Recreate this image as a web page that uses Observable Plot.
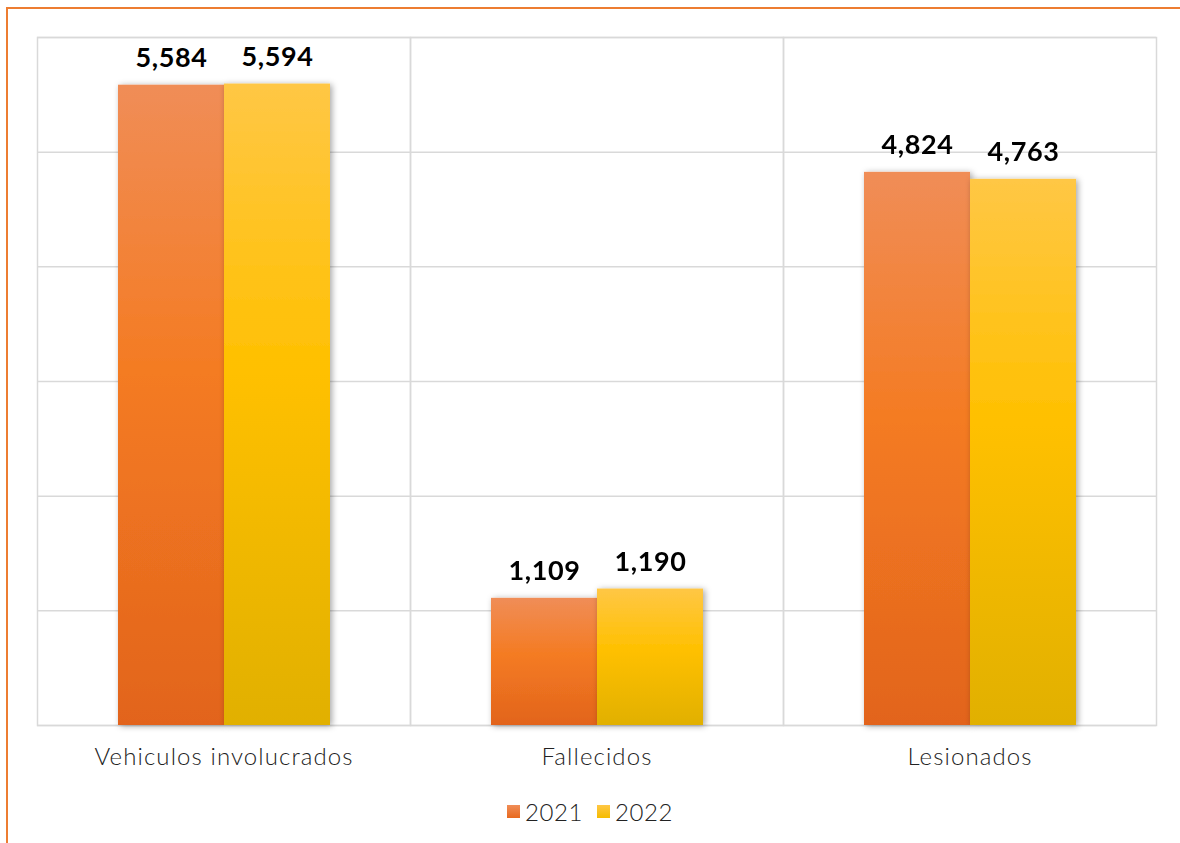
<!DOCTYPE html>
<html>
<head>
<meta charset="utf-8">
<script src="https://cdn.jsdelivr.net/npm/d3@7"></script>
<script src="https://cdn.jsdelivr.net/npm/@observablehq/plot@0.6"></script>
<style>
  html, body { margin: 0; padding: 0; background: #fff; width: 1180px; height: 843px; overflow: hidden; }
  #frame { position: absolute; left: 6px; top: 7px; width: 1180px; height: 850px; border-top: 2px solid #ED7D31; border-left: 2px solid #ED7D31; box-sizing: border-box; }
  #chart { position: absolute; left: 0; top: 0; }
  #legend { position: absolute; top: 794px; left: 0; width: 1180px; text-align: center; font-family: Lato, sans-serif; font-weight: 300; font-size: 24px; letter-spacing: 0.6px; color: #222; }
  #legend span.item { display: inline-flex; align-items: center; margin: 0 7px; }
  #legend span.sw { display: inline-block; width: 13px; height: 13px; margin-right: 5px; }
</style>
</head>
<body>
<div id="frame"></div>
<div id="chart"></div>
<div id="legend"></div>
<script>
const categories = ["Vehiculos involucrados", "Fallecidos", "Lesionados"];
const years = ["2021", "2022"];
const values2021 = [5584, 1109, 4824];
const values2022 = [5594, 1190, 4763];
const yTicks = [0, 1000, 2000, 3000, 4000, 5000, 6000];

const data = [];
categories.forEach((c, i) => {
  data.push({category: c, year: "2021", value: values2021[i]});
  data.push({category: c, year: "2022", value: values2022[i]});
});
const fmt = d3.format(",");

const chart = Plot.plot({
  width: 1180,
  height: 780,
  marginTop: 37,
  marginLeft: 36,
  marginRight: 24,
  marginBottom: 55,
  style: {fontFamily: "Lato, sans-serif", background: "transparent"},
  fx: {domain: categories, padding: 0, label: null, axis: "bottom", tickSize: 0, tickPadding: 22},
  x: {domain: years, paddingInner: 0, paddingOuter: 0.743, axis: null},
  y: {domain: [0, 6000], axis: null},
  marks: [
    Plot.ruleY(yTicks, {stroke: "#d9d9d9", strokeWidth: 1.5}),
    Plot.frame({stroke: "#d9d9d9", strokeWidth: 1.5}),
    Plot.barY(data.filter(d => d.year === "2021"), {fx: "category", x: "year", y: "value", fill: "url(#g2021)", inset: 0}),
    Plot.barY(data.filter(d => d.year === "2022"), {fx: "category", x: "year", y: "value", fill: "url(#g2022)", inset: 0}),
    Plot.text(data, {fx: "category", x: "year", y: "value", text: d => fmt(d.value), dy: -27, fontSize: 27, fontWeight: "bold", fill: "#000"})
  ]
});

// gradients + shadow
const ns = "http://www.w3.org/2000/svg";
const defs = document.createElementNS(ns, "defs");
defs.innerHTML = `
  <linearGradient id="g2021" x1="0" y1="0" x2="0" y2="1">
    <stop offset="0" stop-color="#F08D57"/>
    <stop offset="0.45" stop-color="#F47B22"/>
    <stop offset="1" stop-color="#E2641D"/>
  </linearGradient>
  <linearGradient id="g2022" x1="0" y1="0" x2="0" y2="1">
    <stop offset="0" stop-color="#FFC745"/>
    <stop offset="0.45" stop-color="#FFC000"/>
    <stop offset="1" stop-color="#E1B000"/>
  </linearGradient>
  <filter id="shadow" x="-20%" y="-5%" width="140%" height="110%">
    <feDropShadow dx="2" dy="1" stdDeviation="3" flood-color="#000" flood-opacity="0.35"/>
  </filter>`;
chart.insertBefore(defs, chart.firstChild);
chart.querySelectorAll("g[aria-label='bar']").forEach(g => g.setAttribute("filter", "url(#shadow)"));
chart.querySelectorAll("g[aria-label='text'] text").forEach(t => { t.style.letterSpacing = "0.6px"; });
chart.querySelectorAll("g[aria-label='fx-axis tick label']").forEach(g => {
  g.style.fontSize = "24px"; g.style.fontWeight = "300"; g.style.letterSpacing = "1.1px"; g.setAttribute("fill", "#222");
});
document.getElementById("chart").appendChild(chart);

// legend
const legendColors = {"2021": "linear-gradient(#F08D57, #E8691E)", "2022": "linear-gradient(#FFC745, #F5BC00)"};
document.getElementById("legend").innerHTML = years.map(y =>
  `<span class="item"><span class="sw" style="background:${legendColors[y]}"></span>${y}</span>`).join("");
</script>
</body>
</html>
